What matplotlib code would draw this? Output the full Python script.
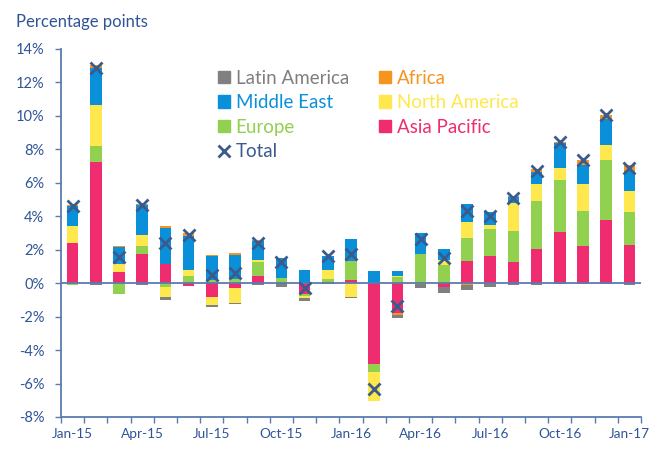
import matplotlib
matplotlib.use("Agg")
import matplotlib.pyplot as plt
import numpy as np
from matplotlib.lines import Line2D
from matplotlib.patches import Patch

months = ["Jan-15", "Feb-15", "Mar-15", "Apr-15", "May-15", "Jun-15", "Jul-15", "Aug-15",
          "Sep-15", "Oct-15", "Nov-15", "Dec-15", "Jan-16", "Feb-16", "Mar-16", "Apr-16",
          "May-16", "Jun-16", "Jul-16", "Aug-16", "Sep-16", "Oct-16", "Nov-16", "Dec-16", "Jan-17"]
tick_labels = ["Jan-15", "Apr-15", "Jul-15", "Oct-15", "Jan-16", "Apr-16", "Jul-16", "Oct-16", "Jan-17"]

asia_pacific = [2.38, 7.22, 0.65, 1.74, 1.15, -0.15, -0.85, -0.29, 0.41, 0.0, -0.65, 0.10, 0.20,
                -4.83, -1.78, 0.0, -0.25, 1.30, 1.60, 1.24, 2.02, 3.04, 2.20, 3.75, 2.26]
europe = [-0.10, 0.96, -0.65, 0.46, -0.25, 0.41, 0.22, 0.25, 0.84, 0.31, -0.14, 0.15, 1.13,
          -0.50, 0.36, 1.74, 1.10, 1.40, 1.66, 1.90, 2.87, 3.13, 2.09, 3.63, 1.97]
north_america = [1.06, 2.45, 0.50, 0.70, -0.57, 0.36, -0.48, -0.89, 0.15, 0.0, -0.08, 0.56, -0.85,
                 -1.73, 0.05, -0.05, 0.30, 0.93, 0.24, 1.65, 1.04, 0.69, 1.64, 0.86, 1.26]
middle_east = [1.15, 2.23, 0.99, 1.75, 2.15, 2.03, 1.41, 1.45, 1.10, 1.19, 0.80, 0.80, 1.30,
               0.70, 0.32, 1.26, 0.66, 1.12, 0.75, 0.34, 0.69, 1.52, 1.15, 1.59, 1.19]
africa = [0.10, 0.20, 0.08, 0.10, 0.12, 0.20, 0.05, 0.08, 0.10, 0.03, -0.04, 0.02, 0.0,
          0.0, -0.10, 0.0, 0.0, -0.10, -0.05, 0.10, 0.22, 0.05, 0.30, 0.24, 0.36]
latin_america = [-0.03, -0.13, 0.0, -0.10, -0.21, 0.0, -0.07, -0.08, -0.10, -0.22, -0.15, -0.05, -0.05,
                 0.0, -0.20, -0.26, -0.32, -0.31, -0.18, -0.09, -0.10, -0.05, -0.05, -0.05, -0.10]
total = [4.60, 12.85, 1.58, 4.65, 2.40, 2.90, 0.48, 0.58, 2.40, 1.25, -0.29, 1.60, 1.74,
         -6.32, -1.38, 2.65, 1.50, 4.33, 4.00, 5.10, 6.70, 8.42, 7.35, 10.05, 6.88]

series = [
    ("Asia Pacific", asia_pacific, "#EE2C6F"),
    ("Europe", europe, "#92D050"),
    ("North America", north_america, "#FFE84D"),
    ("Middle East", middle_east, "#0A90D8"),
    ("Africa", africa, "#F7941D"),
    ("Latin America", latin_america, "#808080"),
]

text_col = "#2F5597"
axis_col = "#5A7BAE"
total_col = "#3B5A8E"

plt.rcParams['font.family'] = ['Lato', 'DejaVu Sans']

fig = plt.figure(figsize=(6.49, 4.49), dpi=100)
ax = fig.add_axes([61/649, 1-417/449, 580/649, 368/449])

x = np.arange(len(months))
pos_bottom = np.zeros(len(months))
neg_bottom = np.zeros(len(months))
for name, vals, col in series:
    v = np.array(vals, dtype=float)
    pos = np.where(v > 0, v, 0)
    neg = np.where(v < 0, v, 0)
    ax.bar(x, pos, 0.5, bottom=pos_bottom, color=col, linewidth=0, zorder=2)
    ax.bar(x, neg, 0.5, bottom=neg_bottom, color=col, linewidth=0, zorder=2)
    pos_bottom += pos
    neg_bottom += neg

ax.plot(x, total, linestyle="none", marker="x", markersize=9, markeredgewidth=2,
        color=total_col, zorder=4)

ax.axhline(0, color=axis_col, linewidth=1.3, zorder=3)

ax.set_xlim(-0.5, len(months) - 0.5)
ax.set_ylim(-8, 14)
ax.set_yticks(np.arange(-8, 15, 2))
ax.set_yticklabels([f"{v}%" for v in range(-8, 15, 2)])

label_pos = [months.index(m) for m in tick_labels]
ax.set_xticks(label_pos)
ax.set_xticklabels(tick_labels)
ax.tick_params(axis="x", which="major", length=0, pad=8, labelsize=9.8, labelcolor=text_col)
ax.set_xticks(np.arange(-0.5, len(months), 1), minor=True)
ax.tick_params(axis="x", which="minor", length=4, color=axis_col, width=1)
ax.tick_params(axis="y", length=4, color=axis_col, width=1, labelsize=10.5, labelcolor=text_col, pad=8)

for s in ["top", "right"]:
    ax.spines[s].set_visible(False)
for s in ["left", "bottom"]:
    ax.spines[s].set_color(axis_col)
    ax.spines[s].set_linewidth(1.3)

fig.text(16/649, 1-22/449, "Percentage points", color=text_col, fontsize=12, va="center", ha="left")

col_map = {name: col for name, _, col in series}
handles = [
    Patch(color=col_map["Latin America"]),
    Patch(color=col_map["Middle East"]),
    Patch(color=col_map["Europe"]),
    Line2D([], [], linestyle="none", marker="x", markersize=9, markeredgewidth=2, color=total_col),
    Patch(color=col_map["Africa"]),
    Patch(color=col_map["North America"]),
    Patch(color=col_map["Asia Pacific"]),
]
labels = ["Latin America", "Middle East", "Europe", "Total", "Africa", "North America", "Asia Pacific"]
text_colors = ["#7F7F7F", col_map["Middle East"], col_map["Europe"], total_col,
               col_map["Africa"], "#FFE84D", col_map["Asia Pacific"]]
leg = ax.legend(handles, labels, ncol=2, frameon=False, fontsize=13.5,
                loc="upper left", bbox_to_anchor=(0.2416, 0.99),
                handlelength=0.64, handleheight=0.64, handletextpad=0.3,
                columnspacing=1.6, labelspacing=0.4)
for t, c in zip(leg.get_texts(), text_colors):
    t.set_color(c)

fig.savefig("out.png", dpi=100)
